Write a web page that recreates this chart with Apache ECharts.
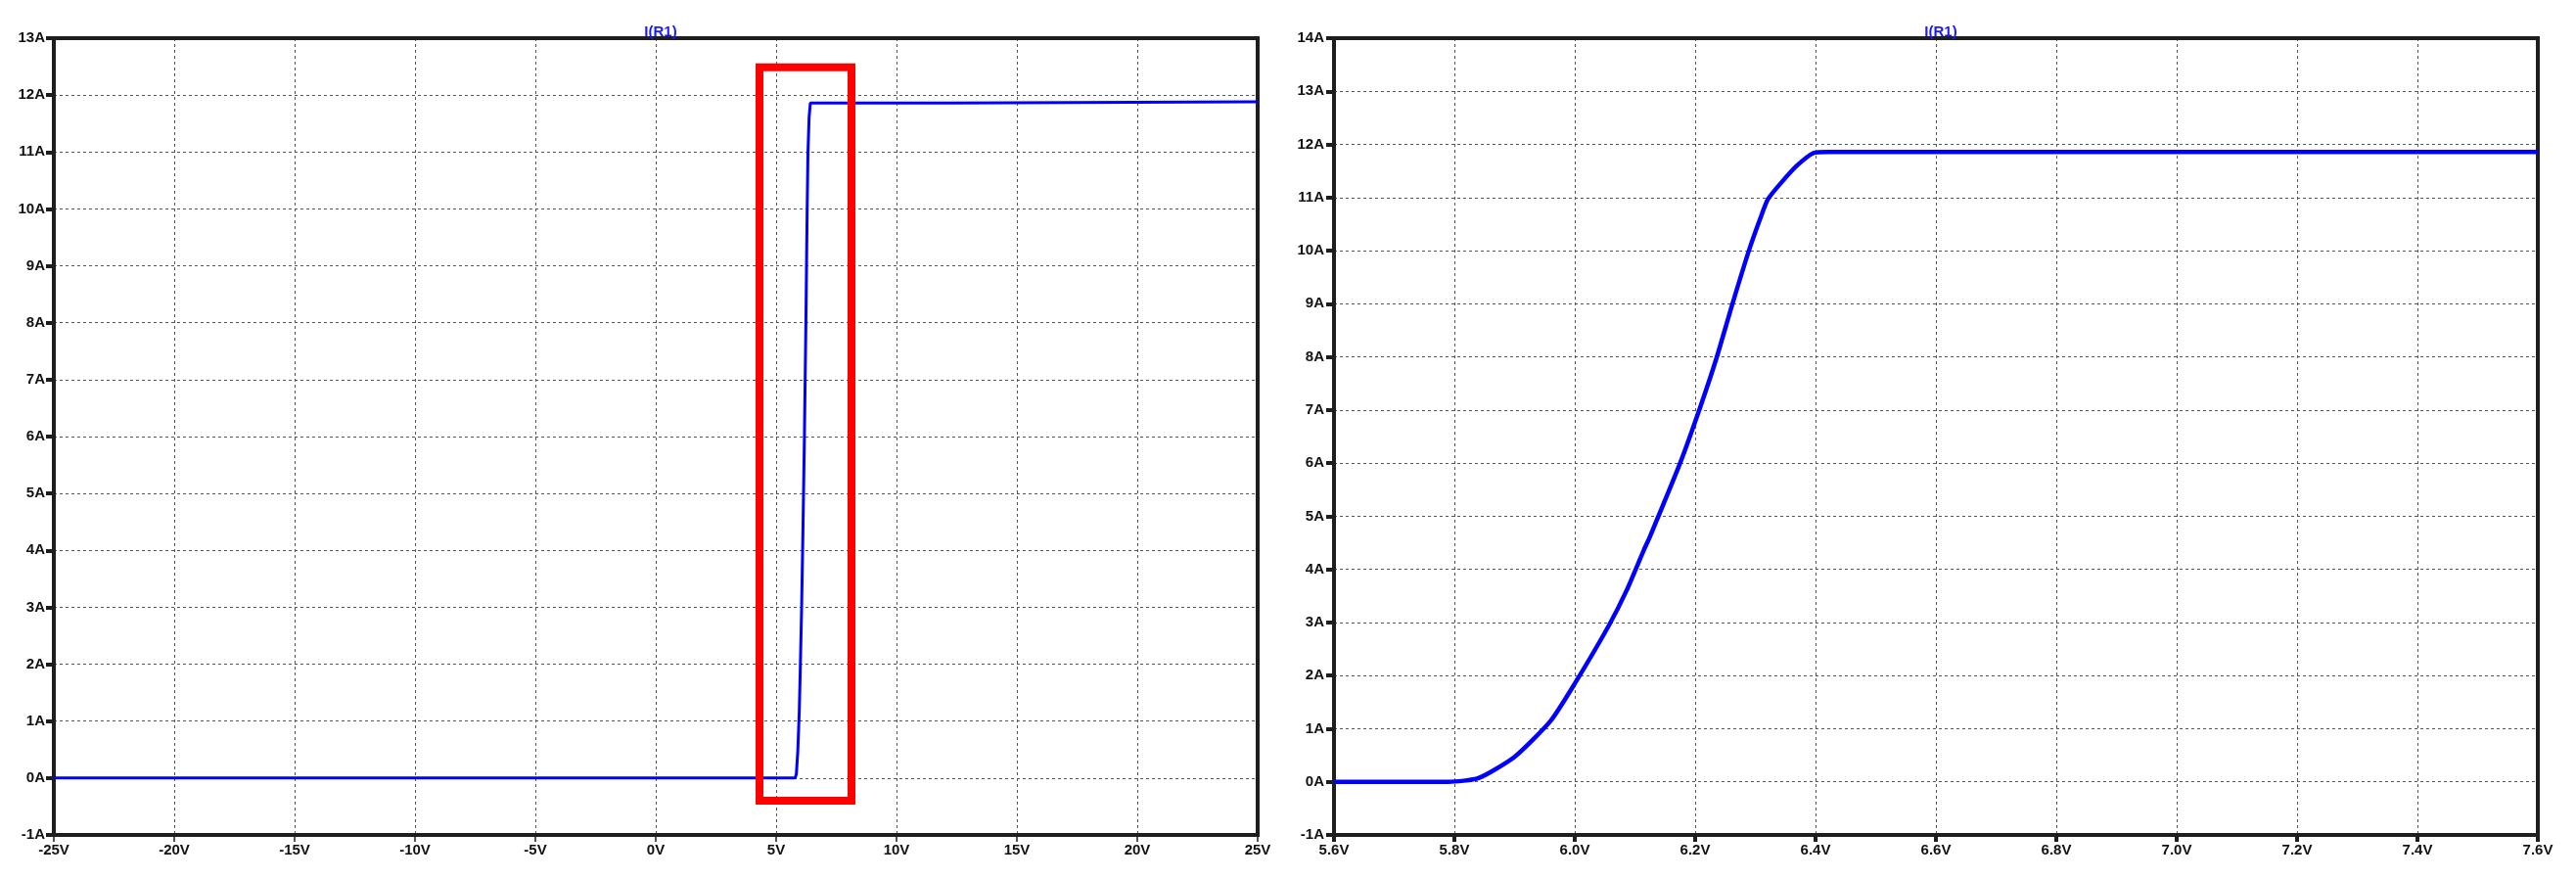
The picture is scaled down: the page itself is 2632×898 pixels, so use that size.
<!DOCTYPE html>
<html>
<head>
<meta charset="utf-8">
<script src="https://cdn.jsdelivr.net/npm/echarts@6/dist/echarts.min.js"></script>
<style>
html,body{margin:0;padding:0;background:#fff;}
#c{width:2632px;height:898px;}
</style>
</head>
<body>
<div id="c"></div>
<script>
// Left panel: full sweep
const leftV = [-25, 5.79, 5.84, 5.9, 5.96, 6.0, 6.056, 6.115, 6.175, 6.235, 6.289, 6.321, 6.37, 6.42, 12.26, 12.27, 25];
const leftI = [0, 0, 0.07, 0.47, 1.15, 1.85, 2.93, 4.37, 6.0, 7.96, 9.99, 10.97, 11.61, 11.86, 11.86, 11.88, 11.88];
// Right panel: zoomed region
const rightV = [5.6, 5.79, 5.84, 5.9, 5.96, 6.0, 6.056, 6.086, 6.115, 6.125, 6.175, 6.208, 6.235, 6.262, 6.289, 6.308, 6.321, 6.343, 6.37, 6.397, 6.42, 7.6];
const rightI = [0, 0, 0.07, 0.47, 1.15, 1.85, 2.93, 3.6, 4.37, 4.62, 6.0, 7.04, 7.96, 9.0, 9.99, 10.6, 10.97, 11.28, 11.61, 11.84, 11.86, 11.86];
// Red highlight box on the left panel (data coords)
const boxV = [4.31, 4.31, 8.13, 8.13, 4.31];
const boxI = [-0.4, 12.49, 12.49, -0.4, -0.4];
// Axis ranges / ticks
const leftXTicks = {min: -25, max: 25, interval: 5};
const leftYTicks = {min: -1, max: 13, interval: 1};
const rightXTicks = {min: 5.6, max: 7.6, interval: 0.2};
const rightYTicks = {min: -1, max: 14, interval: 1};
const titleText = 'I(R1)';

const zip = (a, b) => a.map((v, i) => [v, b[i]]);
const chart = echarts.init(document.getElementById('c'));
const FONT = '"Liberation Sans Narrow", "Liberation Sans", Arial, sans-serif';
const labelStyle = {color: '#111', fontSize: 15, fontWeight: 'bold', fontFamily: FONT};
const splitLine = {show: true, lineStyle: {color: '#555', width: 1, type: [3, 3]}};
const titleStyle = {color: '#1a1aff', fontSize: 15, fontWeight: 'bold', fontFamily: FONT};

function xAxis(gi, t, fmt, tickW) {
  return {
    type: 'value', gridIndex: gi, min: t.min, max: t.max, interval: t.interval,
    axisLine: {show: false, onZero: false},
    axisTick: {show: true, length: 7, lineStyle: {color: '#1e1e1e', width: tickW}},
    axisLabel: Object.assign({margin: 8, formatter: fmt}, labelStyle),
    splitLine: splitLine
  };
}
function yAxis(gi, t, margin) {
  return {
    type: 'value', gridIndex: gi, min: t.min, max: t.max, interval: t.interval,
    axisLine: {show: false, onZero: false},
    axisTick: {show: true, length: 8, lineStyle: {color: '#1e1e1e', width: 4}},
    axisLabel: Object.assign({margin: margin, formatter: v => v + 'A'}, labelStyle),
    splitLine: splitLine
  };
}

chart.setOption({
  backgroundColor: '#fff',
  animation: false,
  title: [
    {text: titleText, left: 670, top: 20, textAlign: 'center', textStyle: titleStyle},
    {text: titleText, left: 1978, top: 20, textAlign: 'center', textStyle: titleStyle}
  ],
  grid: [
    {left: 55, right: 1347, top: 39, bottom: 45, show: true, borderColor: '#1e1e1e', borderWidth: 4, backgroundColor: 'transparent', z: 3},
    {left: 1363, right: 39, top: 39, bottom: 45, show: true, borderColor: '#1e1e1e', borderWidth: 4, backgroundColor: 'transparent', z: 3}
  ],
  xAxis: [
    xAxis(0, leftXTicks, v => v + 'V', 1.5),
    xAxis(1, rightXTicks, v => v.toFixed(1) + 'V', 4)
  ],
  yAxis: [
    yAxis(0, leftYTicks, 9),
    yAxis(1, rightYTicks, 10)
  ],
  series: [
    {type: 'line', xAxisIndex: 0, yAxisIndex: 0, data: zip(leftV, leftI), showSymbol: false,
     lineStyle: {color: '#0000ff', width: 3}, z: 4},
    {type: 'line', xAxisIndex: 0, yAxisIndex: 0, data: zip(boxV, boxI), showSymbol: false,
     lineStyle: {color: '#ff0000', width: 8, join: 'miter', cap: 'square'}, z: 5},
    {type: 'line', xAxisIndex: 1, yAxisIndex: 1, data: zip(rightV, rightI), showSymbol: false, smooth: 0.2,
     lineStyle: {color: '#0000ff', width: 4.5}, z: 4}
  ]
});
</script>
</body>
</html>
